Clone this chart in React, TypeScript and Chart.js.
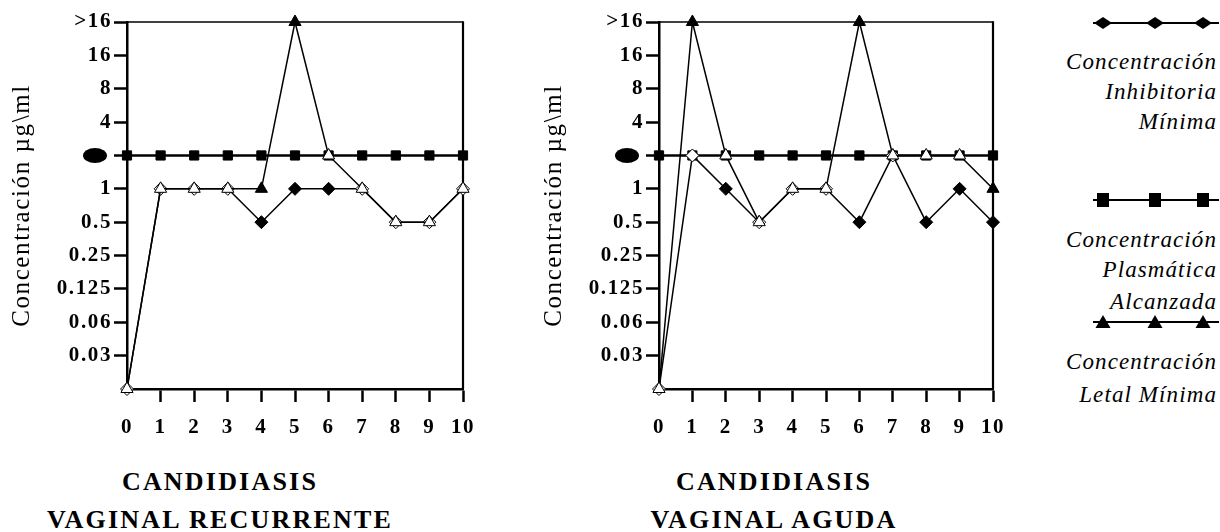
import React, { useEffect, useRef } from 'react';
import { Chart, registerables } from 'chart.js';

Chart.register(...registerables);

// ---- Data ----
const xValues = [0, 1, 2, 3, 4, 5, 6, 7, 8, 9, 10];
// y levels: index 0 = origin (no label) ... 11 = ">16"; level 7 is the ellipse mark
const yTickLabels = ['', '0.03', '0.06', '0.125', '0.25', '0.5', '1', '', '4', '8', '16', '>16'];
const ellipseLevel = 7;

// Candidiasis vaginal recurrente
const recCIM = [0, 6, 6, 6, 5, 6, 6, 6, 5, 5, 6];
const recCPA = [7, 7, 7, 7, 7, 7, 7, 7, 7, 7, 7];
const recCLM = [0, 6, 6, 6, 6, 11, 7, 6, 5, 5, 6];

// Candidiasis vaginal aguda
const agCIM = [0, 7, 6, 5, 6, 6, 5, 7, 5, 6, 5];
const agCPA = [7, 7, 7, 7, 7, 7, 7, 7, 7, 7, 7];
const agCLM = [0, 11, 7, 5, 6, 6, 11, 7, 7, 7, 6];

const yTitle = 'Concentración µg\\ml';
const recTitle = ['CANDIDIASIS', 'VAGINAL RECURRENTE'];
const agTitle = ['CANDIDIASIS', 'VAGINAL AGUDA'];
const legendCIM = ['Concentración', 'Inhibitoria', 'Mínima'];
const legendCPA = ['Concentración', 'Plasmática', 'Alcanzada'];
const legendCLM = ['Concentración', 'Letal Mínima'];

const SERIF = "'Liberation Serif', 'Times New Roman', serif";
const CANVAS_LETTER_SPACING = '1.6px';

const toPoints = (arr: number[]) => arr.map((v, i) => ({ x: xValues[i], y: v }));
const fillFor = (own: number[], others: number[][]) =>
  own.map((v, i) => (others.some((o) => o[i] === v) ? '#ffffff' : '#000000'));

const setSpacing = (chart: any) => {
  try {
    (chart.ctx as any).letterSpacing = CANVAS_LETTER_SPACING;
  } catch (e) {
    /* ignore */
  }
};

const framePlugin = {
  id: 'frame',
  beforeUpdate(chart: any) {
    setSpacing(chart);
  },
  beforeLayout(chart: any) {
    setSpacing(chart);
  },
  beforeDraw(chart: any) {
    setSpacing(chart);
  },
  beforeDatasetsDraw(chart: any) {
    const { ctx, chartArea } = chart;
    const { left, right, top, bottom } = chartArea;
    ctx.save();
    ctx.strokeStyle = '#000';
    ctx.lineWidth = 1.5;
    ctx.beginPath();
    ctx.moveTo(left, top);
    ctx.lineTo(right, top);
    ctx.stroke();
    ctx.lineWidth = 2.2;
    ctx.beginPath();
    ctx.moveTo(right, top - 0.75);
    ctx.lineTo(right, bottom);
    ctx.stroke();
    ctx.restore();
  },
  afterDraw(chart: any) {
    const { ctx, chartArea, scales } = chart;
    const y = scales.y.getPixelForValue(ellipseLevel);
    ctx.save();
    ctx.fillStyle = '#000';
    ctx.beginPath();
    ctx.ellipse(chartArea.left - 32, y, 12, 7.5, 0, 0, Math.PI * 2);
    ctx.fill();
    ctx.restore();
  },
};

function buildConfig(cim: number[], cpa: number[], clm: number[], padRight: number): any {
  const tickFont = { family: SERIF, size: 21, weight: 'bold' };
  const hideZero = (c: any) => (c.tick && c.tick.value === 0 ? 'rgba(0,0,0,0)' : '#000');
  return {
    type: 'line',
    data: {
      datasets: [
        {
          label: 'Concentración Plasmática Alcanzada',
          data: toPoints(cpa),
          borderColor: '#000',
          borderWidth: 2.5,
          pointStyle: 'rect',
          pointRadius: 6.5,
          pointBackgroundColor: '#000',
          pointBorderColor: '#000',
          pointBorderWidth: 1,
          tension: 0,
          order: 3,
          clip: false,
        },
        {
          label: 'Concentración Inhibitoria Mínima',
          data: toPoints(cim),
          borderColor: '#000',
          borderWidth: 1.5,
          pointStyle: 'rectRot',
          pointRadius: 6.5,
          pointBackgroundColor: fillFor(cim, [clm, cpa]),
          pointBorderColor: '#000',
          pointBorderWidth: 1,
          tension: 0,
          order: 2,
          clip: false,
        },
        {
          label: 'Concentración Letal Mínima',
          data: toPoints(clm),
          borderColor: '#000',
          borderWidth: 1.5,
          pointStyle: 'triangle',
          pointRadius: 7,
          pointBackgroundColor: fillFor(clm, [cim, cpa]),
          pointBorderColor: '#000',
          pointBorderWidth: 1,
          tension: 0,
          order: 1,
          clip: false,
        },
      ],
    },
    options: {
      animation: false,
      responsive: false,
      events: [],
      layout: { padding: { top: 22, right: padRight, left: 0, bottom: 0 } },
      plugins: { legend: { display: false }, tooltip: { enabled: false }, title: { display: false } },
      scales: {
        x: {
          type: 'linear',
          min: 0,
          max: 10,
          afterFit: (s: any) => {
            s.height = 61;
          },
          afterBuildTicks: (s: any) => {
            s.ticks = xValues.map((v) => ({ value: v }));
          },
          grid: { drawOnChartArea: false, drawTicks: true, tickLength: 13, tickWidth: 2.5, color: hideZero },
          border: { display: true, color: '#000', width: 2.5 },
          ticks: { font: tickFont, color: '#000', padding: 13, maxRotation: 0, autoSkip: false },
        },
        y: {
          type: 'linear',
          min: 0,
          max: 11,
          afterFit: (s: any) => {
            s.width = 127;
          },
          afterBuildTicks: (s: any) => {
            s.ticks = yTickLabels.map((_, i) => ({ value: i }));
          },
          grid: { drawOnChartArea: false, drawTicks: true, tickLength: 13, tickWidth: 2.5, color: hideZero },
          border: { display: true, color: '#000', width: 2.5 },
          ticks: {
            font: tickFont,
            color: '#000',
            padding: 2,
            autoSkip: false,
            callback: (v: any) => yTickLabels[Math.round(Number(v))] ?? '',
          },
          title: {
            display: true,
            text: yTitle,
            color: '#000',
            font: { family: SERIF, size: 25, weight: 'normal' },
            padding: { top: 7, bottom: 0 },
          },
        },
      },
    },
    plugins: [framePlugin],
  };
}

function LineChart(props: { cim: number[]; cpa: number[]; clm: number[]; left: number; padRight: number }) {
  const ref = useRef<HTMLCanvasElement>(null);
  useEffect(() => {
    const chart = new Chart(ref.current as HTMLCanvasElement, buildConfig(props.cim, props.cpa, props.clm, props.padRight));
    return () => chart.destroy();
  }, []);
  return (
    <canvas
      ref={ref}
      width={500}
      height={450}
      style={{ position: 'absolute', left: props.left, top: 0, width: 500, height: 450 }}
    />
  );
}

function ChartTitle(props: { lines: string[]; cx: number }) {
  const tops = [467, 505];
  return (
    <>
      {props.lines.map((t, i) => (
        <div
          key={i}
          style={{
            position: 'absolute',
            left: props.cx - 250,
            width: 500,
            top: tops[i],
            lineHeight: '30px',
            textAlign: 'center',
            fontFamily: SERIF,
            fontWeight: 'bold',
            fontSize: 26,
            letterSpacing: '2.2px',
            whiteSpace: 'nowrap',
            color: '#000',
          }}
        >
          {t}
        </div>
      ))}
    </>
  );
}

function LegendMarker(props: { kind: 'diamond' | 'square' | 'triangle'; cy: number }) {
  const xs = [10, 62, 110];
  const shape = (x: number, i: number) => {
    if (props.kind === 'diamond')
      return <polygon key={i} points={`${x - 9},12 ${x},6 ${x + 9},12 ${x},18`} fill="#000" />;
    if (props.kind === 'square') return <rect key={i} x={x - 6} y={5} width={12} height={14} fill="#000" />;
    return <polygon key={i} points={`${x - 7.5},18 ${x},5 ${x + 7.5},18`} fill="#000" />;
  };
  return (
    <svg width={126} height={24} style={{ position: 'absolute', left: 1093, top: props.cy - 12 }}>
      <line x1={0} y1={12} x2={126} y2={12} stroke="#000" strokeWidth={2} />
      {xs.map(shape)}
    </svg>
  );
}

function LegendText(props: { lines: string[]; centers: number[] }) {
  return (
    <>
      {props.lines.map((t, i) => (
        <div
          key={i}
          style={{
            position: 'absolute',
            right: 3,
            top: props.centers[i] - 15,
            lineHeight: '30px',
            textAlign: 'right',
            fontFamily: SERIF,
            fontStyle: 'italic',
            fontSize: 23,
            letterSpacing: '1.1px',
            whiteSpace: 'nowrap',
            color: '#000',
          }}
        >
          {t}
        </div>
      ))}
    </>
  );
}

export default function App() {
  return (
    <div
      style={{
        position: 'absolute',
        left: 0,
        top: 0,
        width: 1220,
        height: 532,
        background: '#fff',
        overflow: 'hidden',
      }}
    >
      <LineChart cim={recCIM} cpa={recCPA} clm={recCLM} left={0} padRight={37} />
      <LineChart cim={agCIM} cpa={agCPA} clm={agCLM} left={532} padRight={39} />
      <ChartTitle lines={recTitle} cx={220} />
      <ChartTitle lines={agTitle} cx={774} />
      <LegendMarker kind="diamond" cy={23} />
      <LegendText lines={legendCIM} centers={[62, 92, 122]} />
      <LegendMarker kind="square" cy={200} />
      <LegendText lines={legendCPA} centers={[240, 270, 302]} />
      <LegendMarker kind="triangle" cy={322} />
      <LegendText lines={legendCLM} centers={[362, 395]} />
    </div>
  );
}
